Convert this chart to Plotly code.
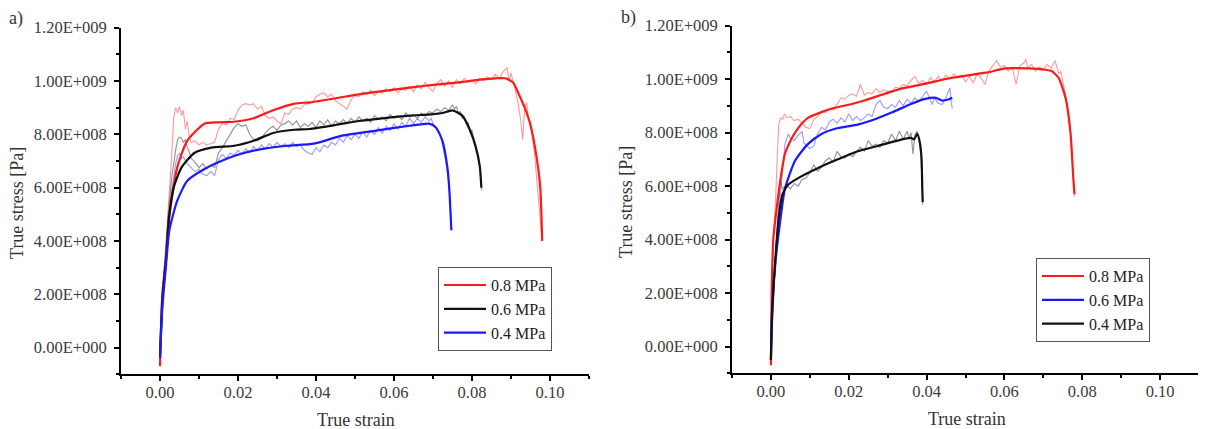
import plotly.graph_objects as go
from plotly.subplots import make_subplots

# stress values are given in units of 1e8 Pa

# ---------- panel a ----------
a_red_x = [0, 0.0006, 0.0016, 0.0022, 0.0044, 0.007, 0.0114, 0.015, 0.019, 0.024, 0.029, 0.0345,
           0.0385, 0.045, 0.051, 0.057, 0.064, 0.07, 0.0767, 0.082, 0.086, 0.0885, 0.0905, 0.092,
           0.0935, 0.095, 0.0965, 0.0975, 0.098]
a_red_y = [-0.7, 2.0, 3.5, 4.7, 6.75, 7.76, 8.4, 8.45, 8.47, 8.6, 8.9, 9.15,
           9.2, 9.35, 9.5, 9.62, 9.75, 9.85, 9.95, 10.05, 10.1, 10.1, 9.95, 9.5,
           9.0, 8.35, 7.2, 6.0, 4.0]

a_red_raw_x = [0, 0.001, 0.002, 0.003, 0.0035, 0.004, 0.0045, 0.005, 0.0055, 0.006, 0.0065, 0.007,
               0.0075, 0.008, 0.009, 0.010, 0.011, 0.012, 0.013, 0.014, 0.015, 0.016, 0.017, 0.018,
               0.019, 0.020, 0.021, 0.022, 0.023, 0.024, 0.025, 0.026, 0.027, 0.028, 0.029, 0.030,
               0.031, 0.032, 0.033, 0.034, 0.035, 0.036, 0.037, 0.038, 0.039, 0.040, 0.041, 0.042,
               0.043, 0.044, 0.045, 0.046, 0.047, 0.048, 0.049, 0.050, 0.051, 0.052, 0.053, 0.054,
               0.055, 0.056, 0.057, 0.058, 0.059, 0.060, 0.061, 0.062, 0.063, 0.064, 0.065, 0.066,
               0.067, 0.068, 0.069, 0.070, 0.071, 0.072, 0.073, 0.074, 0.075, 0.076, 0.077, 0.078,
               0.079, 0.080, 0.081, 0.082, 0.083, 0.084, 0.085, 0.086, 0.087, 0.088, 0.089, 0.0895,
               0.090, 0.0905, 0.091, 0.0915, 0.092, 0.0925, 0.093, 0.0935, 0.094, 0.0945, 0.095,
               0.0955, 0.096, 0.0965, 0.097, 0.0975, 0.098]
a_red_raw_y = [-0.5, 2.5, 5.0, 7.2, 8.6, 9.0, 8.8, 9.05, 8.7, 8.9, 8.2, 8.5,
               7.9, 7.7, 7.75, 7.6, 7.7, 7.6, 7.65, 7.7, 8.2, 8.4, 8.35, 8.6,
               8.55, 8.9, 9.1, 9.15, 9.1, 9.15, 8.95, 9.05, 8.7, 8.6, 8.65, 8.5,
               8.4, 8.8, 8.75, 8.95, 9.0, 8.95, 9.1, 9.15, 9.2, 9.4, 9.5, 9.55,
               9.4, 9.5, 9.25, 9.15, 9.05, 8.95, 9.3, 9.45, 9.4, 9.6, 9.5, 9.65,
               9.45, 9.6, 9.55, 9.7, 9.6, 9.75, 9.55, 9.7, 9.65, 9.8, 9.6, 9.85,
               9.7, 9.95, 9.75, 9.6, 9.9, 10.05, 9.8, 10.0, 9.75, 10.05, 9.9, 10.1,
               9.95, 10.05, 9.9, 10.1, 10.0, 10.15, 10.05, 10.25, 10.1, 10.35, 10.5, 10.0,
               10.3, 10.0, 9.8, 9.4, 9.0, 8.5, 7.8, 9.0, 9.2, 8.6, 8.3,
               7.9, 7.3, 6.5, 5.8, 5.0, 4.0]

a_black_x = [0, 0.0006, 0.0016, 0.0024, 0.0035, 0.0055, 0.0088, 0.0132, 0.019, 0.024, 0.029, 0.0344,
             0.0383, 0.045, 0.051, 0.057, 0.064, 0.0695, 0.0724, 0.075, 0.0775, 0.0795, 0.081,
             0.082, 0.0824]
a_black_y = [-0.3, 1.8, 3.4, 5.0, 6.0, 6.75, 7.3, 7.5, 7.57, 7.76, 8.05, 8.17,
             8.2, 8.35, 8.5, 8.6, 8.7, 8.75, 8.8, 8.9, 8.7, 8.15, 7.5,
             6.8, 6.0]

a_black_raw_x = [0, 0.001, 0.002, 0.003, 0.004, 0.0045, 0.005, 0.0055, 0.006, 0.0065, 0.007, 0.0075,
                 0.008, 0.009, 0.010, 0.011, 0.012, 0.013, 0.014, 0.015, 0.016, 0.017, 0.018, 0.019,
                 0.020, 0.021, 0.022, 0.023, 0.024, 0.025, 0.026, 0.027, 0.028, 0.029, 0.030, 0.031,
                 0.032, 0.033, 0.034, 0.035, 0.036, 0.037, 0.038, 0.039, 0.040, 0.041, 0.042, 0.043,
                 0.044, 0.045, 0.046, 0.047, 0.048, 0.049, 0.050, 0.051, 0.052, 0.053, 0.054, 0.055,
                 0.056, 0.057, 0.058, 0.059, 0.060, 0.061, 0.062, 0.063, 0.064, 0.065, 0.066, 0.067,
                 0.068, 0.069, 0.070, 0.071, 0.072, 0.073, 0.074, 0.075, 0.0755, 0.076, 0.0765, 0.077,
                 0.0775, 0.078, 0.0785, 0.079, 0.0795, 0.080, 0.0805, 0.081, 0.0815, 0.082, 0.0823, 0.0825]
a_black_raw_y = [-0.3, 2.8, 4.8, 6.4, 7.4, 7.8, 7.9, 7.85, 7.7, 7.8, 7.5, 7.35,
                 7.1, 6.95, 6.75, 6.9, 6.7, 6.85, 6.75, 7.3, 7.5, 7.75, 8.0, 8.25,
                 8.4, 8.3, 8.35, 8.0, 7.8, 7.75, 7.85, 8.05, 8.2, 8.3, 8.15, 8.35,
                 8.4, 8.5, 8.35, 8.5, 8.25, 8.4, 8.3, 8.45, 8.25, 8.5, 8.35, 8.55,
                 8.3, 8.5, 8.4, 8.55, 8.4, 8.6, 8.45, 8.65, 8.5, 8.6, 8.45, 8.7,
                 8.55, 8.65, 8.5, 8.75, 8.6, 8.7, 8.55, 8.8, 8.65, 8.75, 8.6, 8.8,
                 8.7, 8.85, 8.8, 8.95, 8.85, 9.0, 8.9, 9.1, 8.95, 9.05, 8.8, 8.85,
                 8.6, 8.65, 8.4, 8.45, 8.1, 8.15, 7.8, 7.6, 7.2, 6.8, 6.2, 5.9]

a_blue_x = [0, 0.0006, 0.0015, 0.0024, 0.0044, 0.007, 0.0114, 0.0157, 0.0208, 0.0267, 0.0326, 0.0395,
            0.0467, 0.0554, 0.064, 0.069, 0.0708, 0.0724, 0.0737, 0.0742, 0.0747]
a_blue_y = [-0.4, 1.5, 3.0, 4.4, 5.5, 6.26, 6.7, 7.0, 7.27, 7.46, 7.57, 7.65,
            7.95, 8.14, 8.32, 8.4, 8.25, 7.76, 6.75, 5.9, 4.4]

a_blue_raw_x = [0, 0.001, 0.002, 0.003, 0.004, 0.0045, 0.005, 0.0055, 0.006, 0.007, 0.008, 0.009,
                0.010, 0.011, 0.012, 0.013, 0.014, 0.015, 0.016, 0.017, 0.018, 0.019, 0.020, 0.021,
                0.022, 0.023, 0.024, 0.025, 0.026, 0.027, 0.028, 0.029, 0.030, 0.031, 0.032, 0.033,
                0.034, 0.035, 0.036, 0.037, 0.038, 0.039, 0.040, 0.041, 0.042, 0.043, 0.044, 0.045,
                0.046, 0.047, 0.048, 0.049, 0.050, 0.051, 0.052, 0.053, 0.054, 0.055, 0.056, 0.057,
                0.058, 0.059, 0.060, 0.061, 0.062, 0.063, 0.064, 0.065, 0.066, 0.067, 0.068, 0.069,
                0.0695, 0.070, 0.0705, 0.071, 0.0715, 0.072, 0.0725, 0.073, 0.0735, 0.074, 0.0745, 0.0748]
a_blue_raw_y = [-0.4, 2.5, 4.3, 5.9, 6.9, 7.2, 7.3, 7.1, 7.15, 6.9, 6.75, 6.6,
                6.7, 6.5, 6.45, 6.6, 6.45, 7.05, 7.25, 7.1, 7.3, 7.2, 7.4, 7.25,
                7.45, 7.3, 7.55, 7.4, 7.6, 7.45, 7.65, 7.5, 7.7, 7.55, 7.65, 7.5,
                7.7, 7.55, 7.6, 7.4, 7.3, 7.25, 7.5, 7.35, 7.6, 7.5, 7.7, 7.6,
                7.85, 7.7, 7.95, 7.8, 8.0, 7.85, 8.1, 7.9, 8.15, 8.0, 8.25, 8.05,
                8.3, 8.15, 8.4, 8.2, 8.45, 8.3, 8.6, 8.4, 8.6, 8.45, 8.65, 8.5,
                8.6, 8.4, 8.3, 8.2, 8.1, 7.9, 7.6, 7.2, 6.8, 6.2, 5.2, 4.4]

# ---------- panel b ----------
b_red_x = [0, 0.0002, 0.0006, 0.0011, 0.0024, 0.0036, 0.0054, 0.007, 0.0095, 0.0157, 0.0208, 0.024,
           0.0292, 0.0343, 0.0394, 0.0466, 0.0552, 0.0603, 0.066, 0.0705, 0.0721, 0.0739, 0.0757,
           0.077, 0.0777, 0.078]
b_red_y = [-0.7, 2.0, 4.0, 4.7, 6.2, 7.2, 7.8, 8.17, 8.55, 8.9, 9.07, 9.2,
           9.45, 9.67, 9.82, 10.05, 10.24, 10.4, 10.4, 10.35, 10.3, 10.05, 9.3,
           7.95, 6.3, 5.7]

b_red_raw_x = [0, 0.0004, 0.0008, 0.0012, 0.0016, 0.002, 0.0025, 0.003, 0.0035, 0.004, 0.005, 0.006,
               0.007, 0.008, 0.009, 0.010, 0.011, 0.012, 0.013, 0.014, 0.015, 0.016, 0.017, 0.018,
               0.019, 0.020, 0.021, 0.022, 0.023, 0.024, 0.025, 0.026, 0.027, 0.028, 0.029, 0.030,
               0.031, 0.032, 0.033, 0.034, 0.035, 0.036, 0.037, 0.038, 0.039, 0.040, 0.041, 0.042,
               0.043, 0.044, 0.045, 0.046, 0.047, 0.048, 0.049, 0.050, 0.051, 0.052, 0.053, 0.054,
               0.055, 0.056, 0.057, 0.058, 0.059, 0.060, 0.061, 0.062, 0.063, 0.064, 0.065, 0.0655,
               0.066, 0.067, 0.068, 0.069, 0.070, 0.071, 0.072, 0.073, 0.0735, 0.074, 0.0745, 0.075,
               0.0755, 0.076, 0.0765, 0.077, 0.0775, 0.078]
b_red_raw_y = [-0.7, 3.0, 4.5, 5.5, 7.0, 8.3, 8.55, 8.5, 8.7, 8.55, 8.6, 8.45,
               8.5, 8.35, 8.2, 8.15, 8.5, 8.6, 8.8, 8.75, 8.9, 8.85, 9.05, 9.3,
               9.25, 9.4, 9.45, 9.35, 9.8, 9.4, 9.5, 9.45, 9.65, 9.5, 9.6, 9.55,
               9.5, 9.7, 9.65, 9.8, 9.75, 9.95, 10.1, 9.85, 9.95, 9.8, 10.05, 9.9,
               10.1, 9.95, 10.15, 10.0, 10.2, 10.05, 10.15, 9.9, 10.1, 9.85, 10.2, 10.05,
               9.8, 10.3, 10.5, 10.7, 10.45, 10.5, 10.3, 10.45, 9.8, 10.5, 10.6, 10.75,
               10.4, 10.55, 10.3, 10.45, 10.35, 10.55, 10.4, 10.7, 10.45, 10.2, 10.3, 9.9,
               9.6, 9.2, 8.8, 8.0, 6.8, 5.6]

b_blue_x = [0, 0.0003, 0.0012, 0.0024, 0.0036, 0.0062, 0.0095, 0.013, 0.0172, 0.0223, 0.0258, 0.031,
            0.036, 0.0394, 0.0424, 0.044, 0.0458, 0.0466]
b_blue_y = [-0.5, 1.3, 3.2, 4.7, 5.9, 6.95, 7.57, 7.95, 8.17, 8.3, 8.45, 8.75,
            9.07, 9.25, 9.3, 9.2, 9.25, 9.3]

b_blue_raw_x = [0, 0.0006, 0.0012, 0.002, 0.003, 0.0036, 0.0045, 0.005, 0.006, 0.007, 0.008, 0.0085,
                0.009, 0.010, 0.011, 0.012, 0.013, 0.014, 0.015, 0.016, 0.017, 0.018, 0.019, 0.020,
                0.021, 0.022, 0.023, 0.024, 0.025, 0.026, 0.027, 0.028, 0.029, 0.030, 0.031, 0.032,
                0.033, 0.034, 0.035, 0.036, 0.037, 0.038, 0.039, 0.040, 0.041, 0.0415, 0.042, 0.043,
                0.044, 0.045, 0.0455, 0.046, 0.0463, 0.0466]
b_blue_raw_y = [-0.5, 1.5, 3.5, 5.0, 6.55, 7.57, 7.95, 7.8, 7.7, 7.9, 8.05, 7.6,
                7.55, 7.4, 7.5, 7.95, 8.2, 8.1, 8.4, 8.5, 8.35, 8.55, 8.4, 8.7,
                8.45, 8.6, 8.45, 8.55, 8.7, 8.6, 9.05, 9.2, 8.95, 8.9, 9.05, 8.95,
                9.2, 9.0, 9.25, 9.1, 9.3, 9.15, 9.35, 9.55, 9.2, 9.05, 9.3, 9.1,
                9.05, 9.3, 9.5, 9.67, 9.2, 8.9]

b_black_x = [0, 0.0003, 0.001, 0.002, 0.003, 0.0044, 0.007, 0.012, 0.0172, 0.0223, 0.0274, 0.0325,
             0.036, 0.0368, 0.0376, 0.0383, 0.0387, 0.0389, 0.039]
b_black_y = [-0.5, 1.3, 3.0, 4.8, 5.7, 6.05, 6.3, 6.67, 7.0, 7.3, 7.5, 7.7,
             7.8, 7.75, 7.95, 7.6, 7.05, 5.9, 5.4]

b_black_raw_x = [0, 0.0006, 0.0012, 0.002, 0.0024, 0.003, 0.004, 0.005, 0.006, 0.007, 0.008, 0.009,
                 0.010, 0.011, 0.012, 0.013, 0.014, 0.015, 0.016, 0.017, 0.018, 0.019, 0.020, 0.021,
                 0.022, 0.023, 0.024, 0.025, 0.026, 0.027, 0.028, 0.029, 0.030, 0.031, 0.032, 0.033,
                 0.034, 0.035, 0.0355, 0.036, 0.0365, 0.037, 0.0375, 0.038, 0.0385, 0.0388, 0.039]
b_black_raw_y = [-0.5, 1.8, 3.5, 5.4, 6.2, 5.9, 6.05, 5.9, 6.1, 6.0, 6.25, 6.3,
                 6.5, 6.8, 6.55, 6.7, 6.95, 7.05, 6.9, 7.3, 7.1, 7.05, 7.2, 7.1,
                 7.3, 7.45, 7.3, 7.7, 7.5, 7.57, 7.45, 7.7, 7.6, 7.95, 7.7, 8.05,
                 7.75, 8.05, 7.8, 8.0, 7.2, 7.9, 8.05, 7.85, 7.2, 6.3, 5.3]

y_tick_vals = [0, 2e8, 4e8, 6e8, 8e8, 1e9, 1.2e9]
y_tick_text = ["0.00E+000", "2.00E+008", "4.00E+008", "6.00E+008", "8.00E+008", "1.00E+009", "1.20E+009"]

W, H = 1206, 429
FONT = "Liberation Serif"

RED, BLACK, BLUE = "#ff1a1a", "#111111", "#1a1aff"
RED_RAW, BLACK_RAW, BLUE_RAW = "rgba(255,70,70,0.55)", "rgba(70,70,70,0.6)", "rgba(70,70,255,0.55)"


def pa(vals):
    return [v * 1e8 for v in vals]


# screen pixel -> paper fraction (page shows the figure shifted, calibrated from earlier runs)
def fx(px):
    return (px - 8) / W


def fy(py):
    return 1 - ((py - 16.4) / 0.977) / H


fig = make_subplots(rows=1, cols=2)

panel_a = [
    (a_red_raw_x, a_red_raw_y, a_red_x, a_red_y, RED_RAW, RED, "0.8 MPa"),
    (a_black_raw_x, a_black_raw_y, a_black_x, a_black_y, BLACK_RAW, BLACK, "0.6 MPa"),
    (a_blue_raw_x, a_blue_raw_y, a_blue_x, a_blue_y, BLUE_RAW, BLUE, "0.4 MPa"),
]
panel_b = [
    (b_red_raw_x, b_red_raw_y, b_red_x, b_red_y, RED_RAW, RED, "0.8 MPa"),
    (b_blue_raw_x, b_blue_raw_y, b_blue_x, b_blue_y, BLUE_RAW, BLUE, "0.6 MPa"),
    (b_black_raw_x, b_black_raw_y, b_black_x, b_black_y, BLACK_RAW, BLACK, "0.4 MPa"),
]

for col, series, leg in [(1, panel_a, "legend"), (2, panel_b, "legend2")]:
    # noisy measured curves underneath
    for rx, ry, sx, sy, rc, sc, name in series:
        fig.add_trace(go.Scatter(x=rx, y=pa(ry), mode="lines", line=dict(color=rc, width=1.1),
                                 showlegend=False, hoverinfo="skip"), row=1, col=col)
    # smoothed curves on top
    for rx, ry, sx, sy, rc, sc, name in series:
        fig.add_trace(go.Scatter(x=sx, y=pa(sy), mode="lines", name=name,
                                 line=dict(color=sc, width=2.2, shape="spline", smoothing=0.6),
                                 legend=leg), row=1, col=col)

axis_common = dict(showline=True, linecolor="black", linewidth=1.8, ticks="outside", ticklen=5,
                   tickwidth=1.5, tickcolor="black", showgrid=False, zeroline=False, mirror=False,
                   tickfont=dict(family=FONT, size=16.5, color="#3a3a3a"))

fig.update_xaxes(range=[-0.01, 0.11], tickmode="linear", tick0=0, dtick=0.02, tickformat=".2f",
                 ticklabelstandoff=-3,
                 minor=dict(tickmode="linear", tick0=0, dtick=0.01, ticks="outside", ticklen=3,
                            tickwidth=1.5, tickcolor="black"),
                 **axis_common)
fig.update_yaxes(range=[-1e8, 1.2e9], tickmode="array", tickvals=y_tick_vals, ticktext=y_tick_text,
                 ticklabelstandoff=4,
                 minor=dict(tickmode="linear", tick0=0, dtick=1e8, ticks="outside", ticklen=3,
                            tickwidth=1.5, tickcolor="black"),
                 **axis_common)

legend_style = dict(xanchor="left", yanchor="top", bordercolor="#555555", borderwidth=1,
                    bgcolor="white", itemwidth=42, font=dict(family=FONT, size=16, color="#222222"))

fig.update_layout(
    width=W, height=H,
    margin=dict(l=0, r=0, t=0, b=0),
    paper_bgcolor="white", plot_bgcolor="white",
    font=dict(family=FONT, color="#333333"),
    xaxis=dict(domain=[fx(121), fx(589)]),
    xaxis2=dict(domain=[fx(732), fx(1199)]),
    yaxis=dict(domain=[fy(373), fy(27)]),
    yaxis2=dict(domain=[fy(372), fy(25)]),
    legend=dict(x=fx(438), y=fy(266), **legend_style),
    legend2=dict(x=fx(1036), y=fy(257), **legend_style),
)

labels = [
    ("a)", 16, 18, 0),
    ("b)", 628, 17, 0),
    ("True stress [Pa]", 17, 202, -90),
    ("True stress [Pa]", 626, 201, -90),
    ("True strain", 356, 419, 0),
    ("True strain", 967, 418, 0),
]
for text, px, py, ang in labels:
    fig.add_annotation(text=text, x=fx(px), y=fy(py), xref="paper", yref="paper",
                       showarrow=False, textangle=ang, xanchor="center", yanchor="middle",
                       font=dict(family=FONT, size=18, color="#333333"))

fig.write_html("out.html")
